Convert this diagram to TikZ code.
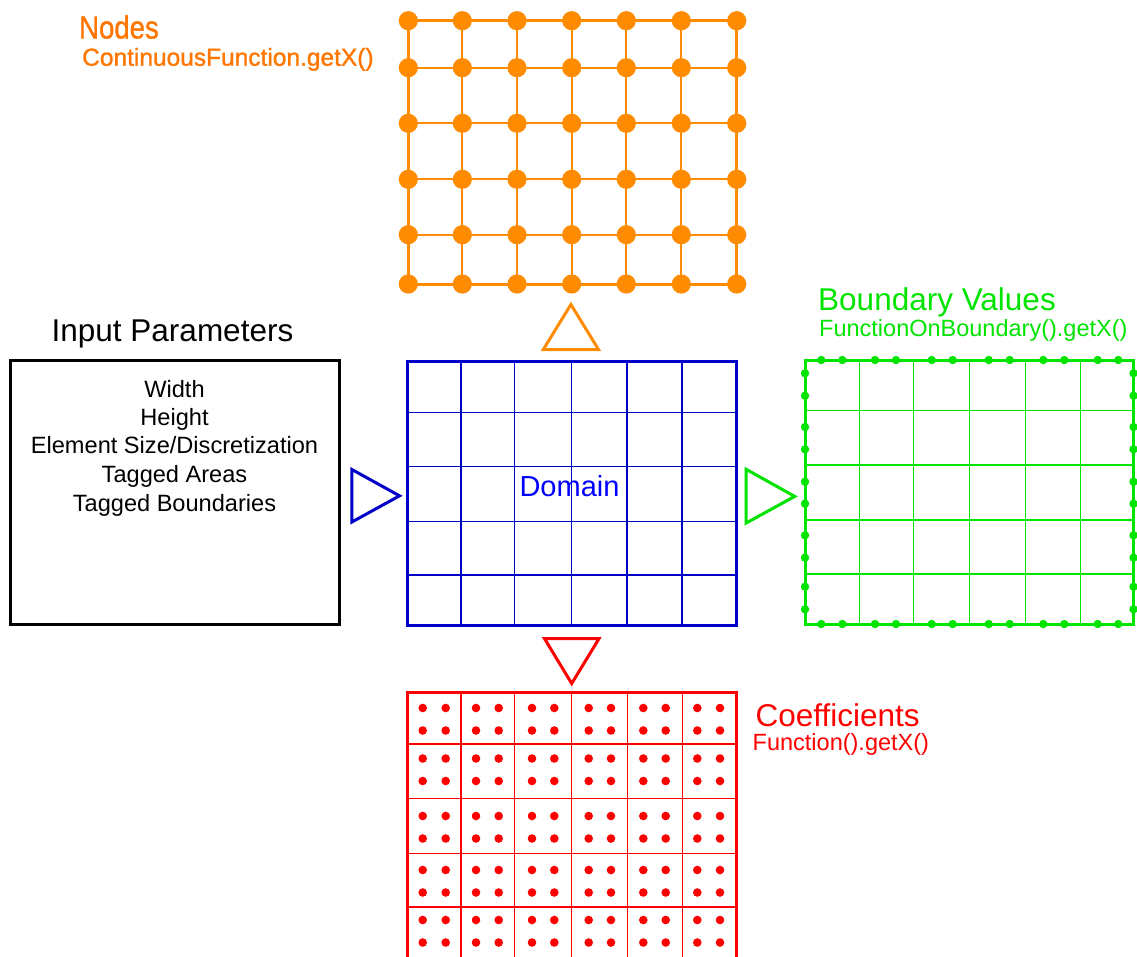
\documentclass[tikz,border=0pt]{standalone}
\usepackage{fontspec}
\setmainfont{Liberation Sans}
\newfontfamily\heavysans[FakeBold=1.2]{Liberation Sans}
\definecolor{nodeorange}{RGB}{255,140,0}
\definecolor{labelorange}{RGB}{255,118,0}
\definecolor{domainblue}{RGB}{0,0,200}
\definecolor{textblue}{RGB}{0,0,255}
\definecolor{bndgreen}{RGB}{0,228,0}
\definecolor{coefred}{RGB}{255,0,0}
\tikzset{
  lbl/.style={inner sep=0pt, anchor=base west},
  ctr/.style={inner sep=0pt, anchor=base},
  bigtext/.style={font=\fontsize{31.5}{36}\selectfont},
  smalltext/.style={font=\fontsize{23.5}{28}\selectfont},
  frame/.style={line width=3pt},
  cellline/.style={line width=1.4pt},
  marker/.style={line width=3pt, line join=miter, fill=white},
}
\begin{document}
\begin{tikzpicture}[x=1pt, y=-1pt]
\useasboundingbox (0,0) rectangle (1137,956);

% ---- input parameters box ----
\node[ctr, bigtext] (inputtitle) at (172.5,341.7) {Input Parameters};
\draw[frame] (10,360) rectangle (339.3,624.3);
\coordinate (inputbox) at (174.5,492);
\foreach \txt/\yy [count=\i] in {Width/397.3, Height/425.2, Element Size\slash Discretization/453.5, Tagged Areas/482.5, Tagged Boundaries/511.5}
  \node[ctr, font=\fontsize{23.6}{28}\selectfont] (param\i) at (174.5,\yy) {\txt};

% ---- domain mesh ----
\begin{scope}[draw=domainblue]
  \foreach \x in {461,514.7,571.3,627,682}
    \draw[cellline] (\x,361.3) -- (\x,625.3);
  \foreach \y in {412.3,466.7,521.7,575}
    \draw[cellline] (407.3,\y) -- (736.7,\y);
  \draw[frame] (407.3,361.3) rectangle (736.7,625.3);
\end{scope}
\node[ctr, text=textblue, font=\fontsize{29}{34}\selectfont] (domain) at (569.5,496.7) {Domain};

% ---- nodes mesh ----
\def\nodecols{408.3,462.3,517,571.7,626.3,681.3,736.7}
\def\noderows{20.7,67.7,123.3,179.3,234.7,284}
\begin{scope}[draw=nodeorange, fill=nodeorange]
  \foreach \x in {462.3,517,571.7,626.3,681.3}
    \draw[line width=2pt] (\x,20.7) -- (\x,284);
  \foreach \y in {67.7,123.3,179.3,234.7}
    \draw[line width=2pt] (408.3,\y) -- (736.7,\y);
  \draw[frame] (408.3,20.7) rectangle (736.7,284);
  \foreach \x in \nodecols
    \foreach \y in \noderows
      \fill (\x,\y) circle[radius=9.6pt];
\end{scope}
\node[lbl, text=labelorange, font=\heavysans\fontsize{32}{36}\selectfont] (nodestitle) at (79,38.5) {\scalebox{0.86}[1]{Nodes}};
\node[lbl, text=labelorange, font=\heavysans\fontsize{24.5}{28}\selectfont] (nodessub) at (82,65.7) {ContinuousFunction.getX()};

% ---- boundary mesh ----
\begin{scope}[draw=bndgreen, fill=bndgreen]
  \foreach \x in {859.3,913.3,969.7,1025.7,1080.7}
    \draw[cellline] (\x,360) -- (\x,624);
  \foreach \y in {410.7,465,520,574}
    \draw[cellline] (805,\y) -- (1133.5,\y);
  \draw[frame] (805,360) rectangle (1133.5,624);
  \foreach \x in {821.3,842.3,875,896,931.7,952.7,988.7,1009.7,1043.3,1064.3,1097.7,1118.3} {
    \fill (\x,360) circle[radius=4.2pt];
    \fill (\x,624) circle[radius=4.2pt];
  }
  \foreach \y in {373.3,395.7,427,449.3,481.7,503.7,535.3,557.7,586.7,609.3} {
    \fill (805,\y) circle[radius=4.2pt];
    \fill (1133.5,\y) circle[radius=4.2pt];
  }
\end{scope}
\node[lbl, text=bndgreen, bigtext] (bndtitle) at (818,310) {Boundary Values};
\node[lbl, text=bndgreen, smalltext] (bndsub) at (819,336.7) {FunctionOnBoundary().getX()};

% ---- coefficient mesh ----
\begin{scope}[draw=coefred, fill=coefred]
  \foreach \x in {461,514.7,571.7,627.3,682.3}
    \draw[cellline] (\x,692.7) -- (\x,960);
  \foreach \y in {744,798.7,853.3,907}
    \draw[cellline] (407.3,\y) -- (736.7,\y);
  \draw[frame] (407.3,960) -- (407.3,692.7) -- (736.7,692.7) -- (736.7,960);
  \foreach \x in {422.7,445.7,476,498.7,532,554.3,588.7,611,643.3,665.7,697.3,720}
    \foreach \y in {708,730.5,758.5,781,816,838.5,870,892.5,920,942.5}
      \fill (\x,\y) circle[radius=4.3pt];
\end{scope}
\node[lbl, text=coefred, bigtext] (coeftitle) at (755.5,726) {Coefficients};
\node[lbl, text=coefred, smalltext] (coefsub) at (752.5,750) {Function().getX()};

% ---- direction markers ----
\draw[marker, draw=nodeorange] (543.3,349.5) -- (570.9,304.5) -- (598.5,349.5) -- cycle;
\draw[marker, draw=domainblue] (351.9,469.5) -- (399.5,495.8) -- (351.9,522) -- cycle;
\draw[marker, draw=bndgreen] (746.2,469.3) -- (794.7,496.4) -- (746.2,523) -- cycle;
\draw[marker, draw=coefred] (544.5,638.6) -- (599,638.6) -- (571.7,683.5) -- cycle;
\end{tikzpicture}
\end{document}
